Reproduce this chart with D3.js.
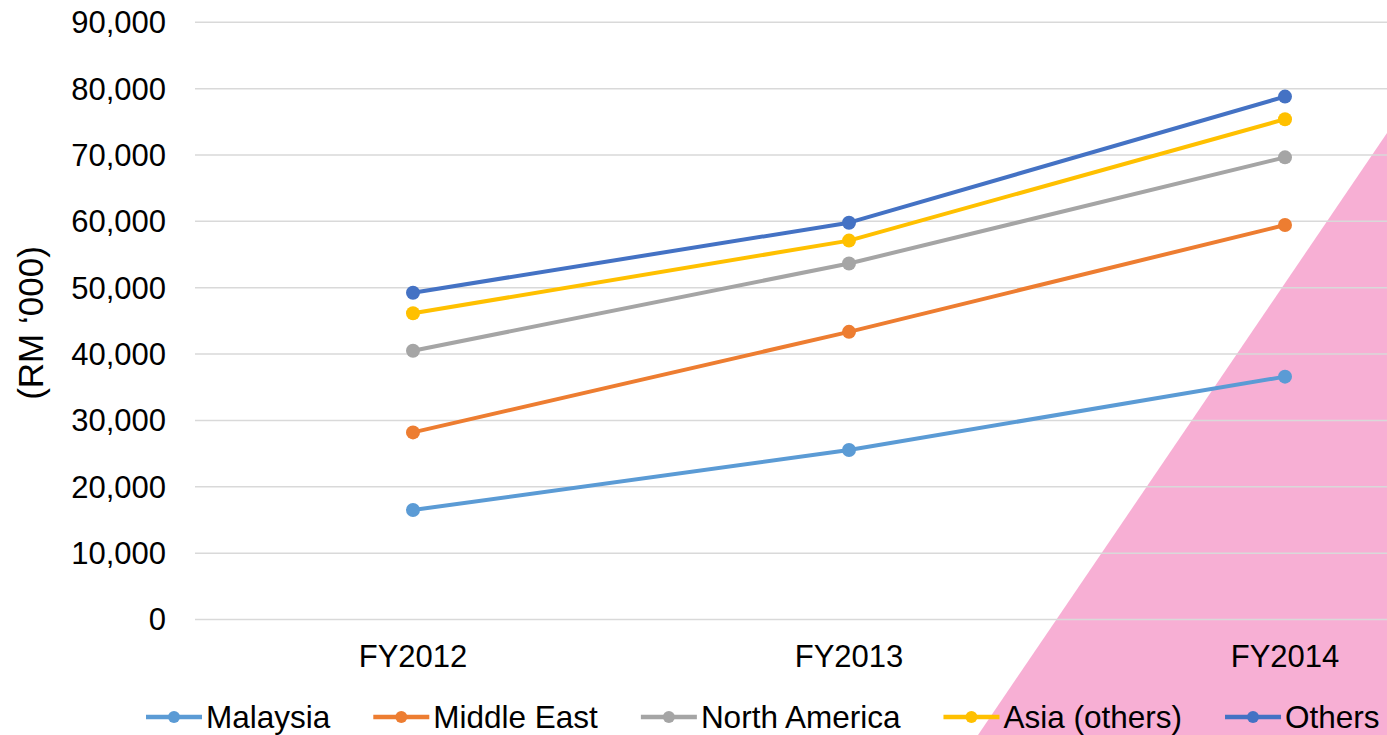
<!DOCTYPE html>
<html>
<head>
<meta charset="utf-8">
<script src="https://cdn.jsdelivr.net/npm/d3@7"></script>
<style>
  html, body { margin: 0; padding: 0; background: #fff; }
  svg { display: block; font-family: "Liberation Sans", Arial, sans-serif; }
</style>
</head>
<body>
<div id="chart"></div>
<script>
// Revenue by region (RM '000)
const years = ["FY2012", "FY2013", "FY2014"];
const regions = ["Malaysia", "Middle East", "North America", "Asia (others)", "Others"];
const malaysia = [16500, 25550, 36600];
const middleEast = [28200, 43350, 59450];
const northAmerica = [40500, 53650, 69650];
const asiaOthers = [46150, 57100, 75400];
const others = [49250, 59800, 78800];
const yTicks = [0, 10000, 20000, 30000, 40000, 50000, 60000, 70000, 80000, 90000];
const colors = ["#5B9BD5", "#ED7D31", "#A5A5A5", "#FFC000", "#4472C4"];

const series = [malaysia, middleEast, northAmerica, asiaOthers, others]
  .map((values, i) => ({ name: regions[i], color: colors[i], values }));

const width = 1387, height = 735;

const svg = d3.select("#chart").append("svg")
  .attr("width", width)
  .attr("height", height);

// pink decorative wedge bottom-right (behind everything)
svg.append("polygon")
  .attr("points", `978,${height} ${width},133 ${width},${height}`)
  .attr("fill", "#F7AFD4");

// the plot is wider than the picture; the last band runs off the right edge
const x = d3.scalePoint()
  .domain(years)
  .range([195, 195 + 3 * 436])
  .padding(0.5);

const y = d3.scaleLinear()
  .domain([0, 90000])
  .range([619.5, 22.3]);

// gridlines
svg.append("g")
  .selectAll("line")
  .data(yTicks)
  .enter()
  .append("line")
  .attr("x1", 195)
  .attr("x2", width)
  .attr("y1", d => y(d))
  .attr("y2", d => y(d))
  .attr("stroke", "#D9D9D9")
  .attr("stroke-width", 1.5);

// y tick labels
svg.append("g")
  .selectAll("text")
  .data(yTicks)
  .enter()
  .append("text")
  .attr("x", 166)
  .attr("y", d => y(d))
  .attr("dy", "0.35em")
  .attr("text-anchor", "end")
  .attr("font-size", 31)
  .attr("fill", "#000")
  .text(d => d3.format(",")(d));

// x category labels
svg.append("g")
  .selectAll("text")
  .data(years)
  .enter()
  .append("text")
  .attr("x", d => x(d))
  .attr("y", 667)
  .attr("text-anchor", "middle")
  .attr("font-size", 31)
  .attr("fill", "#000")
  .text(d => d);

// y axis title
svg.append("text")
  .attr("transform", "translate(43,323) rotate(-90)")
  .attr("text-anchor", "middle")
  .attr("font-size", 35)
  .attr("fill", "#000")
  .text("(RM \u2018000)");

// lines + markers
const line = d3.line()
  .x((d, i) => x(years[i]))
  .y(d => y(d));

const sg = svg.append("g")
  .selectAll("g")
  .data(series)
  .enter()
  .append("g");

sg.append("path")
  .attr("d", d => line(d.values))
  .attr("fill", "none")
  .attr("stroke", d => d.color)
  .attr("stroke-width", 4)
  .attr("stroke-linejoin", "round");

sg.selectAll("circle")
  .data(d => d.values.map(v => ({ v, color: d.color })))
  .enter()
  .append("circle")
  .attr("cx", (d, i) => x(years[i]))
  .attr("cy", d => y(d.v))
  .attr("r", 7)
  .attr("fill", d => d.color);

// legend along the bottom
const legend = svg.append("g").attr("transform", "translate(146,717)");
let lx = 0;
series.forEach(s => {
  const item = legend.append("g").attr("transform", `translate(${lx},0)`);
  item.append("line")
    .attr("x1", 0).attr("x2", 56)
    .attr("stroke", s.color)
    .attr("stroke-width", 4.5);
  item.append("circle")
    .attr("cx", 28)
    .attr("r", 6)
    .attr("fill", s.color);
  const t = item.append("text")
    .attr("x", 60)
    .attr("dy", "0.35em")
    .attr("font-size", 31.5)
    .attr("fill", "#000")
    .text(s.name);
  lx += 60 + t.node().getComputedTextLength() + 43;
});
</script>
</body>
</html>
